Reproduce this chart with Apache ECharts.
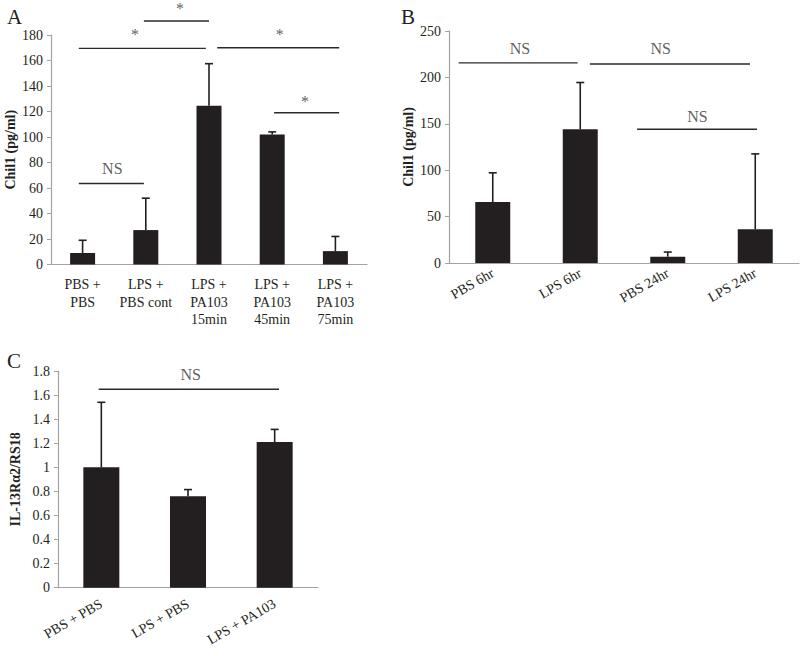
<!DOCTYPE html>
<html><head><meta charset="utf-8">
<script src="https://cdn.jsdelivr.net/npm/echarts@6/dist/echarts.min.js"></script>
<style>html,body{margin:0;padding:0;background:#fff}#c{width:800px;height:656px}</style>
</head><body><div id="c"></div>
<script>
// ---------- data ----------
const catsA = ['PBS +\nPBS', 'LPS +\nPBS cont', 'LPS +\nPA103\n15min', 'LPS +\nPA103\n45min', 'LPS +\nPA103\n75min'];
const meanA = [9, 27, 124.5, 102, 10.5];
const sdA = [10, 25, 33, 2, 11.5];
const bracketsA = [[-0.06, 0.97, 63.5], [-0.06, 1.95, 169.5], [0.97, 2.0, 191], [2.13, 4.06, 170], [3.03, 4.06, 119]];
const marksA = [['NS', 0.47, 75.6], ['*', 0.83, 180.5], ['*', 1.54, 201], ['*', 3.12, 180.5], ['*', 3.52, 127.5]];

const catsB = ['PBS 6hr', 'LPS 6hr', 'PBS 24hr', 'LPS 24hr'];
const meanB = [65.6, 144.2, 6.8, 36.3];
const sdB = [31.6, 50.3, 5, 81.3];
const bracketsB = [[-0.39, 0.97, 215.6], [1.11, 2.94, 214.5], [1.65, 3.02, 144.2]];
const marksB = [['NS', 0.31, 231.4], ['NS', 1.92, 231.4], ['NS', 2.34, 157.4]];

const catsC = ['PBS + PBS', 'LPS + PBS', 'LPS + PA103'];
const meanC = [1.0, 0.76, 1.21];
const sdC = [0.54, 0.055, 0.105];
const bracketsC = [[-0.03, 2.05, 1.648]];
const marksC = [['NS', 1.03, 1.767]];

const yNames = ['Chil1 (pg/ml)', 'Chil1 (pg/ml)', 'IL-13R\u03b12/RS18'];
const panelLetters = ['A', 'B', 'C'];

// ---------- styling ----------
const FONT = 'Liberation Serif';
const INK = '#231f20';
const AXIS = '#a3a3a3';

const panels = [
  {cats: catsA, mean: meanA, sd: sdA, br: bracketsA, mk: marksA, grid: {left: 51, top: 35, width: 316, height: 229.5},
   y: {min: 0, max: 180, interval: 20}, barWidth: 25, rotate: 0, margin: 11, lineHeight: 17.7, nameGap: 34},
  {cats: catsB, mean: meanB, sd: sdB, br: bracketsB, mk: marksB, grid: {left: 449, top: 31, width: 350, height: 232},
   y: {min: 0, max: 250, interval: 50}, barWidth: 35, rotate: 30, margin: 9, lineHeight: 16, nameGap: 34},
  {cats: catsC, mean: meanC, sd: sdC, br: bracketsC, mk: marksC, grid: {left: 58, top: 371, width: 260, height: 216.7},
   y: {min: 0, max: 1.8, interval: 0.2}, barWidth: 36, rotate: 30, margin: 15, lineHeight: 16, nameGap: 36}
];

const grid = [], xAxis = [], yAxis = [], series = [];
panels.forEach((p, i) => {
  grid.push(Object.assign({containLabel: false}, p.grid));
  // category axis (index 2i) and hidden value axis (2i+1)
  xAxis.push({
    type: 'category', gridIndex: i, data: p.cats,
    axisLine: {onZero: false, lineStyle: {color: AXIS, width: 1.2}}, axisTick: {show: false},
    axisLabel: {color: INK, fontFamily: FONT, fontSize: 14, rotate: p.rotate, margin: p.margin,
      lineHeight: p.lineHeight, interval: 0}
  });
  xAxis.push({type: 'value', gridIndex: i, min: -0.5, max: p.cats.length - 0.5, show: false,
    axisLine: {show: false, onZero: false}, splitLine: {show: false}});
  yAxis.push({
    type: 'value', gridIndex: i, min: p.y.min, max: p.y.max, interval: p.y.interval,
    name: yNames[i], nameLocation: 'middle', nameGap: p.nameGap, nameRotate: 90,
    nameTextStyle: {color: INK, fontFamily: FONT, fontSize: 14, fontWeight: 'bold'},
    axisLine: {show: true, onZero: false, lineStyle: {color: AXIS, width: 1.2}},
    axisTick: {show: true, inside: false, length: 4, lineStyle: {color: AXIS}},
    splitLine: {show: false},
    axisLabel: {color: INK, fontFamily: FONT, fontSize: 14, margin: 8}
  });
  series.push({
    type: 'bar', xAxisIndex: 2 * i, yAxisIndex: i, data: p.mean, barWidth: p.barWidth,
    itemStyle: {color: INK}, silent: true, z: 2
  });
  series.push({
    type: 'custom', xAxisIndex: 2 * i, yAxisIndex: i, z: 3, silent: true,
    data: p.mean.map((m, k) => [k, m, m + p.sd[k]]),
    encode: {x: 0, y: [1, 2]},
    renderItem: function (params, api) {
      const lo = api.coord([api.value(0), api.value(1)]);
      const hi = api.coord([api.value(0), api.value(2)]);
      const st = {stroke: INK, lineWidth: 1.6};
      return {type: 'group', children: [
        {type: 'line', shape: {x1: lo[0], y1: lo[1], x2: hi[0], y2: hi[1]}, style: st},
        {type: 'line', shape: {x1: hi[0] - 4, y1: hi[1], x2: hi[0] + 4, y2: hi[1]}, style: st}
      ]};
    }
  });
  series.push({
    type: 'custom', xAxisIndex: 2 * i + 1, yAxisIndex: i, z: 3, silent: true, clip: false,
    data: p.br, encode: {x: [0, 1], y: 2},
    renderItem: function (params, api) {
      const a = api.coord([api.value(0), api.value(2)]);
      const b = api.coord([api.value(1), api.value(2)]);
      return {type: 'line', shape: {x1: a[0], y1: a[1], x2: b[0], y2: b[1]},
        style: {stroke: '#2a2a2a', lineWidth: 1.4}};
    }
  });
  series.push({
    type: 'scatter', xAxisIndex: 2 * i + 1, yAxisIndex: i, symbolSize: 0, clip: false, silent: true,
    data: p.mk.map(m => ({name: m[0], value: [m[1], m[2]]})),
    label: {show: true, position: 'inside', formatter: '{b}', color: '#333', fontFamily: FONT, fontSize: 16}
  });
});

const title = panelLetters.map((t, i) => ({
  text: t, left: [2, 396, 2][i], top: [1, 1, 345][i],
  textStyle: {fontFamily: FONT, fontSize: 21, fontWeight: 'normal', color: INK}
}));

const chart = echarts.init(document.getElementById('c'), null, {renderer: 'svg'});
chart.setOption({animation: false, backgroundColor: '#fff', title, grid, xAxis, yAxis, series});
</script></body></html>
